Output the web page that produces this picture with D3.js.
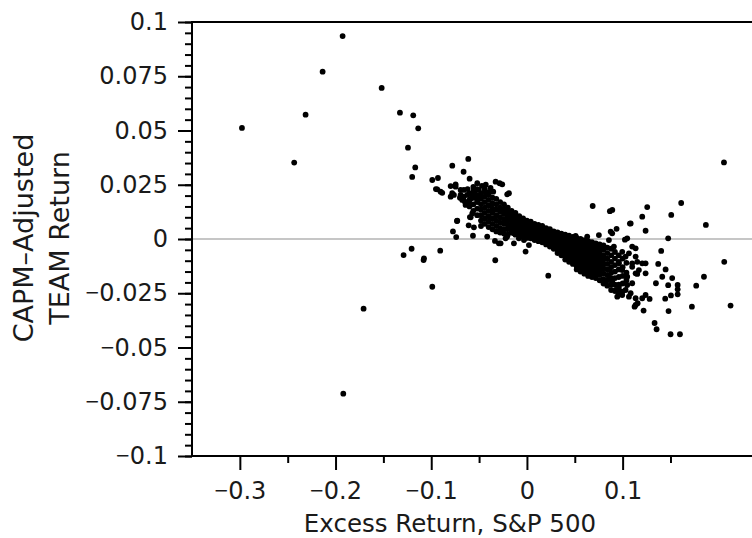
<!DOCTYPE html>
<html>
<head>
<meta charset="utf-8">
<script src="https://cdn.jsdelivr.net/npm/d3@7"></script>
<style>
  body { margin: 0; background: #fff; }
  svg { display: block; font-family: "DejaVu Sans", sans-serif; }
</style>
</head>
<body>
<svg id="chart" width="752" height="538"></svg>
<script>
// axis ticks
var xMajor = [-0.3, -0.2, -0.1, 0, 0.1];
var xMinor = [-0.25, -0.15, -0.05, 0.05, 0.15];
var yMajor = [-0.1, -0.075, -0.05, -0.025, 0, 0.025, 0.05, 0.075, 0.1];

var xTitle = "Excess Return, S&P 500";
var yTitle = ["CAPM\u2013Adjusted", "TEAM Return"];

// far-out points, upper left arc and lower left
var farPoints = [
  [-0.2978, 0.0512], [-0.2432, 0.0352], [-0.2313, 0.0573], [-0.2135, 0.0771],
  [-0.1926, 0.0935], [-0.1518, 0.0696], [-0.1327, 0.0582], [-0.1188, 0.0570],
  [-0.1136, 0.0510], [-0.1243, 0.0421], [-0.1167, 0.0330], [-0.1199, 0.0286],
  [-0.1707, -0.0321], [-0.1919, -0.0713], [-0.1289, -0.0074], [-0.1205, -0.0045],
  [-0.1076, -0.0089], [-0.0989, -0.0220], [-0.0906, -0.0054], [-0.1080, -0.0097]
];

// scattered points left of the dense band
var leftPoints = [
  [-0.0989, 0.0272], [-0.0930, 0.0281], [-0.0951, 0.0230], [-0.0885, 0.0213],
  [-0.0902, 0.0218], [-0.0937, 0.0229], [-0.0797, 0.0244], [-0.0745, 0.0241],
  [-0.0797, 0.0195], [-0.0780, 0.0338], [-0.0613, 0.0369], [-0.0662, 0.0310],
  [-0.0599, 0.0278], [-0.0648, 0.0172], [-0.0731, 0.0083], [-0.0773, 0.0035],
  [-0.0739, 0.0009], [-0.0609, 0.0063], [-0.0564, 0.0015], [-0.0596, 0.0101],
  [-0.0571, 0.0118], [-0.0554, 0.0054], [-0.0588, 0.0100], [-0.0728, 0.0084],
  [-0.0745, 0.0252], [-0.0781, 0.0211], [-0.0763, 0.0203], [-0.0693, 0.0226],
  [-0.0693, 0.0203], [-0.0658, 0.0226], [-0.0624, 0.0203], [-0.0676, 0.0180],
  [-0.0572, 0.0203], [-0.0519, 0.0257], [-0.0502, 0.0226], [-0.0484, 0.0203],
  [-0.0519, 0.0180], [-0.0606, 0.0172], [-0.0641, 0.0157], [-0.0327, 0.0264],
  [-0.0285, 0.0257], [-0.0258, 0.0252], [-0.0206, 0.0206], [-0.0188, 0.0211],
  [-0.0352, 0.0218], [-0.0331, -0.0098], [-0.0415, 0.0011], [-0.0334, -0.0009],
  [-0.0293, -0.0020], [-0.0275, -0.0020], [-0.0223, 0.0003], [-0.0136, -0.0020],
  [-0.0206, 0.0011], [-0.0136, 0.0026], [-0.0084, 0.0003], [-0.0031, -0.0005],
  [0.0021, -0.0028], [-0.0014, -0.0058], [-0.0440, 0.0230], [-0.0400, 0.0215],
  [-0.0560, 0.0240], [-0.0545, 0.0215], [-0.0470, 0.0245], [-0.0430, 0.0250],
  [-0.0380, 0.0235], [-0.0700, 0.0190], [-0.0660, 0.0195], [-0.0620, 0.0230],
  [-0.0590, 0.0185]
];

// dense band, one column of y values per x value
var bandX = [-0.060, -0.056, -0.052, -0.048, -0.044, -0.040, -0.036, -0.032,
  -0.028, -0.024, -0.020, -0.016, -0.012, -0.008, -0.004, 0.000, 0.004, 0.008,
  0.012, 0.016, 0.020, 0.024, 0.028, 0.032, 0.036, 0.040, 0.044, 0.048, 0.052,
  0.056, 0.060, 0.064, 0.068, 0.072, 0.076, 0.080, 0.084, 0.088, 0.092, 0.096,
  0.100, 0.104];
var bandY = [
  [0.021, 0.018, 0.015],
  [0.022, 0.019, 0.016, 0.013],
  [0.023, 0.020, 0.017, 0.014, 0.011],
  [0.021, 0.0185, 0.016, 0.0135, 0.011, 0.0085, 0.006],
  [0.022, 0.0195, 0.017, 0.0145, 0.012, 0.0095, 0.007],
  [0.0205, 0.018, 0.0155, 0.013, 0.0105, 0.008, 0.0055],
  [0.019, 0.0165, 0.014, 0.012, 0.0095, 0.007, 0.0045],
  [0.0185, 0.016, 0.0135, 0.011, 0.0085, 0.006, 0.0035],
  [0.017, 0.0145, 0.0125, 0.010, 0.0075, 0.005, 0.003],
  [0.016, 0.0135, 0.0115, 0.009, 0.007, 0.0045, 0.0025],
  [0.0145, 0.0125, 0.0105, 0.0085, 0.0065, 0.0045, 0.002],
  [0.013, 0.011, 0.009, 0.007, 0.005, 0.003],
  [0.012, 0.010, 0.008, 0.006, 0.004, 0.002],
  [0.0105, 0.0088, 0.007, 0.0052, 0.0035, 0.0015],
  [0.0095, 0.008, 0.0062, 0.0045, 0.003, 0.001],
  [0.0085, 0.007, 0.0055, 0.004, 0.0025, 0.0005],
  [0.008, 0.0065, 0.005, 0.0035, 0.002, 0.0003],
  [0.007, 0.0055, 0.004, 0.0025, 0.001, -0.0005],
  [0.0065, 0.005, 0.0035, 0.002, 0.0005, -0.001],
  [0.006, 0.0045, 0.003, 0.0015, 0.000, -0.0015],
  [0.005, 0.0035, 0.002, 0.0005, -0.001, -0.0025],
  [0.0045, 0.003, 0.001, -0.0005, -0.002, -0.0035],
  [0.0035, 0.002, 0.000, -0.0015, -0.003, -0.0045],
  [0.003, 0.001, -0.0005, -0.002, -0.0035, -0.005, -0.0065],
  [0.0025, 0.0005, -0.001, -0.0028, -0.0045, -0.006, -0.0075],
  [0.002, 0.000, -0.002, -0.0035, -0.005, -0.0065, -0.008, -0.0095],
  [0.0015, -0.0005, -0.0025, -0.004, -0.0058, -0.0075, -0.009, -0.0105],
  [0.001, -0.001, -0.003, -0.005, -0.0068, -0.0085, -0.010, -0.0115],
  [0.0005, -0.0015, -0.0035, -0.0055, -0.0075, -0.0093, -0.011, -0.0125, -0.014],
  [0.000, -0.002, -0.004, -0.006, -0.008, -0.010, -0.012, -0.0135, -0.015],
  [-0.0005, -0.0025, -0.0045, -0.0065, -0.0085, -0.0105, -0.0125, -0.0143, -0.016],
  [-0.001, -0.003, -0.005, -0.007, -0.009, -0.011, -0.013, -0.015, -0.017],
  [-0.0015, -0.0035, -0.0055, -0.0075, -0.0095, -0.0115, -0.0135, -0.0155, -0.0175],
  [-0.002, -0.004, -0.006, -0.008, -0.010, -0.012, -0.014, -0.016, -0.018],
  [-0.0025, -0.0045, -0.0065, -0.0085, -0.0105, -0.0125, -0.0145, -0.0165, -0.019],
  [-0.003, -0.005, -0.0075, -0.0095, -0.0115, -0.0135, -0.016, -0.0185, -0.0205],
  [-0.004, -0.0065, -0.009, -0.0115, -0.014, -0.0165, -0.019, -0.0215],
  [-0.0045, -0.0075, -0.0105, -0.013, -0.0155, -0.018, -0.021, -0.0235],
  [-0.006, -0.009, -0.012, -0.015, -0.018, -0.021, -0.024],
  [-0.0075, -0.0105, -0.014, -0.0175, -0.021, -0.025],
  [-0.009, -0.013, -0.017, -0.0205],
  [-0.011, -0.0155, -0.019]
];

// scattered points right of the dense band
var rightPoints = [
  [0.0223, -0.0169], [0.0404, 0.0014], [0.0509, 0.0014], [0.0630, 0.0011],
  [0.0752, 0.0018], [0.0875, 0.0034], [0.0937, 0.0047], [0.1084, 0.0072],
  [0.1048, 0.0003], [0.0891, 0.0026], [0.0857, -0.0005], [0.0909, -0.0035],
  [0.0996, -0.0059], [0.1066, -0.0066], [0.1100, -0.0112], [0.1136, -0.0158],
  [0.1048, -0.0212], [0.0961, -0.0235], [0.0891, -0.0204], [0.0857, -0.0174],
  [0.0787, -0.0189], [0.0944, -0.0266], [0.0996, -0.0243], [0.1084, -0.0250],
  [0.1136, -0.0304], [0.0961, -0.0220], [0.1031, -0.0235], [0.1100, -0.0204],
  [0.0891, -0.0197], [0.0927, -0.0235], [0.0996, -0.0258], [0.1066, -0.0266],
  [0.1136, -0.0273], [0.1170, -0.0143], [0.1153, -0.0105], [0.1100, -0.0128],
  [0.1048, -0.0174], [0.0996, -0.0143], [0.0961, -0.0112], [0.1031, -0.0081],
  [0.1100, -0.0035], [0.0687, 0.0152], [0.0867, 0.0128], [0.0892, 0.0134],
  [0.1257, 0.0147], [0.1612, 0.0166], [0.2059, 0.0353], [0.1205, 0.0103],
  [0.1076, 0.0071], [0.1508, 0.0111], [0.1870, 0.0065], [0.1240, 0.0038],
  [0.1476, 0.0003], [0.1024, -0.0003], [0.1403, -0.0055], [0.2062, -0.0105],
  [0.1372, -0.0115], [0.1449, -0.0140], [0.1850, -0.0174], [0.1414, -0.0174],
  [0.1518, -0.0180], [0.1348, -0.0204], [0.1769, -0.0215], [0.1476, -0.0213],
  [0.1575, -0.0212], [0.1575, -0.0232], [0.1505, -0.0260], [0.1575, -0.0255],
  [0.1445, -0.0275], [0.1724, -0.0312], [0.2128, -0.0307], [0.1480, -0.0332],
  [0.1334, -0.0387], [0.1355, -0.0416], [0.1501, -0.0439], [0.1599, -0.0439],
  [0.1219, -0.0330], [0.1125, -0.0312], [0.1157, -0.0296], [0.1205, -0.0273],
  [0.1240, -0.0258], [0.1282, -0.0276], [0.1240, -0.0158], [0.1153, -0.0161],
  [0.1205, -0.0112], [0.1240, -0.0112], [0.1136, -0.0043], [0.1136, -0.0081]
];

(function () {
  var bandPoints = [];
  bandX.forEach(function (x, i) {
    bandY[i].forEach(function (y) { bandPoints.push([x, y]); });
  });
  var points = farPoints.concat(leftPoints, bandPoints, rightPoints);

  var svg = d3.select("#chart");
  var plotLeft = 192, plotTop = 22, plotBottom = 456, plotRight = 752;

  var x = d3.scaleLinear().domain([-0.35, 0.2352]).range([plotLeft, plotRight]);
  var y = d3.scaleLinear().domain([-0.1, 0.1]).range([plotBottom, plotTop]);

  var fmt = function (d) { return d === 0 ? "0" : d3.format("~g")(d); };

  // zero line
  svg.append("line")
    .attr("x1", plotLeft).attr("x2", plotRight)
    .attr("y1", y(0)).attr("y2", y(0))
    .attr("stroke", "#b3b3b3").attr("stroke-width", 1.6);

  // points
  svg.append("g").selectAll("circle")
    .data(points)
    .enter()
    .append("circle")
    .attr("cx", function (d) { return x(d[0]); })
    .attr("cy", function (d) { return y(d[1]); })
    .attr("r", 2.9)
    .attr("fill", "#000");

  // axes
  var yMinor = d3.range(-100, 101, 5).map(function (v) { return v / 1000; });

  svg.append("g").attr("class", "axis")
    .attr("transform", "translate(" + plotLeft + ",0)")
    .call(d3.axisLeft(y).tickValues(yMinor).tickSize(7).tickFormat(""));
  svg.append("g").attr("class", "axis labels")
    .attr("transform", "translate(" + plotLeft + ",0)")
    .call(d3.axisLeft(y).tickValues(yMajor).tickSize(14).tickPadding(10).tickFormat(fmt));

  svg.append("g").attr("class", "axis")
    .attr("transform", "translate(0," + plotBottom + ")")
    .call(d3.axisBottom(x).tickValues(xMinor).tickSize(7).tickFormat(""));
  svg.append("g").attr("class", "axis labels")
    .attr("transform", "translate(0," + plotBottom + ")")
    .call(d3.axisBottom(x).tickValues(xMajor).tickSize(14).tickPadding(12).tickFormat(fmt));

  svg.selectAll(".axis .domain").remove();
  svg.selectAll(".axis line").attr("stroke", "#000").attr("stroke-width", 2);
  svg.selectAll(".labels text")
    .attr("fill", "#1a1a1a")
    .style("font-family", "DejaVu Sans")
    .style("font-size", "24px")
    .each(function () {
      var t = d3.select(this), s = t.text();
      if (s.charAt(0) === "\u2212") {
        t.text(null);
        t.append("tspan").style("font-family", "Noto Sans").text("\u2212");
        t.append("tspan").text(s.slice(1));
      }
    });

  // frame
  svg.append("line").attr("x1", plotLeft).attr("x2", plotRight).attr("y1", plotTop).attr("y2", plotTop)
    .attr("stroke", "#000").attr("stroke-width", 2);
  svg.append("line").attr("x1", plotLeft).attr("x2", plotRight).attr("y1", plotBottom).attr("y2", plotBottom)
    .attr("stroke", "#000").attr("stroke-width", 2);
  svg.append("line").attr("x1", plotLeft).attr("x2", plotLeft).attr("y1", plotTop - 1).attr("y2", plotBottom + 1)
    .attr("stroke", "#000").attr("stroke-width", 2);

  // titles
  svg.append("text")
    .attr("x", 450).attr("y", 532)
    .attr("text-anchor", "middle")
    .attr("fill", "#1a1a1a")
    .style("font-size", "24.5px")
    .text(xTitle);

  svg.selectAll(".ytitle")
    .data(yTitle)
    .enter()
    .append("text")
    .attr("class", "ytitle")
    .attr("transform", function (d, i) { return "translate(" + (33 + i * 36) + ",238) rotate(-90)"; })
    .attr("text-anchor", "middle")
    .attr("fill", "#1a1a1a")
    .style("font-size", "27px")
    .text(function (d) { return d; });
})();
</script>
</body>
</html>
